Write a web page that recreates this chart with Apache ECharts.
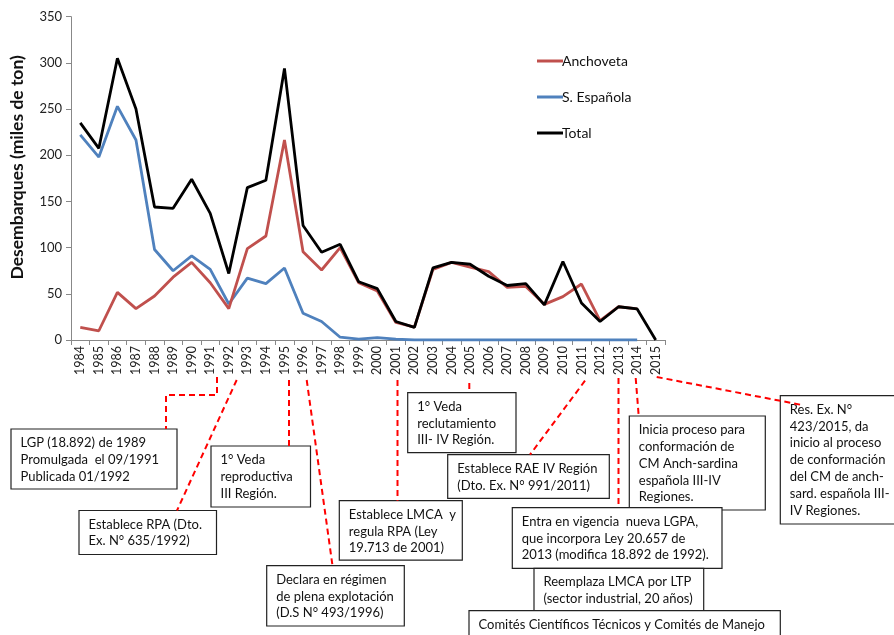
<!DOCTYPE html>
<html>
<head>
<meta charset="utf-8">
<script src="https://cdn.jsdelivr.net/npm/echarts@6/dist/echarts.min.js"></script>
<style>
  html, body { margin: 0; padding: 0; background: #fff; }
  #chart { width: 894px; height: 635px; }
</style>
</head>
<body>
<div id="chart"></div>
<script>
// datos (miles de ton)
var years = ['1984','1985','1986','1987','1988','1989','1990','1991','1992','1993','1994','1995','1996','1997','1998','1999',
             '2000','2001','2002','2003','2004','2005','2006','2007','2008','2009','2010','2011','2012','2013','2014','2015'];
var anchoveta = [13.7,10,51.6,34,47.6,68,84,62,34,99,112.6,216.5,95.6,75.8,100,62,
                 53,19,14,76.5,84,79,74,57,58,38.6,47,60.6,21,36,33.6,null];
var espanola = [222,198,253,216.5,98,75,91,76.5,39,67,61,78,29,20,3,1,
                2.5,1,0,0,0,0,0,0,0,0,0,0,0,0,0,null];
var total = [235,207.5,305,250,144,142.5,174,137,72,165,173,294,124,95,103.6,63,
             55.6,20,13.7,78,84,82,69,59,61,38,85,40,20,36,33.6,0];
var yTicks = [0,50,100,150,200,250,300,350];

// anotaciones: caja [x, y, ancho, alto] + líneas de texto
var notes = [
    { box: [11, 429, 166, 60], lines: ['LGP (18.892) de 1989', 'Promulgada  el 09/1991', 'Publicada 01/1992'] },
    { box: [79, 510.5, 137.5, 44], lines: ['Establece RPA (Dto.', 'Ex. N° 635/1992)'] },
    { box: [211, 446, 99.5, 61], lines: ['1° Veda', 'reproductiva', 'III Región.'] },
    { box: [266.7, 565.7, 137.6, 60.3], lines: ['Declara en régimen', 'de plena explotación', '(D.S N° 493/1996)'] },
    { box: [339.3, 500.7, 123, 59.5], lines: ['Establece LMCA  y', 'regula RPA (Ley', '19.713 de 2001)'] },
    { box: [407.7, 392.7, 108.3, 60], lines: ['1° Veda', 'reclutamiento', 'III- IV Región.'] },
    { box: [447.7, 454.7, 161.6, 43.6], lines: ['Establece RAE IV Región', '(Dto. Ex. N° 991/2011)'] },
    { box: [629.3, 416, 136, 94], lines: ['Inicia proceso para', 'conformación de', 'CM Anch-sardina', 'española III-IV', 'Regiones.'] },
    { box: [512.3, 507.7, 209.7, 60.6], lines: ['Entra en vigencia  nueva LGPA,', 'que incorpora Ley 20.657 de', '2013 (modifica 18.892 de 1992).'] },
    { box: [534, 568.3, 169.7, 42.4], lines: ['Reemplaza LMCA por LTP', '(sector industrial, 20 años)'] },
    { box: [469, 610.7, 311.3, 40], lines: ['Comités Científicos Técnicos y Comités de Manejo'] },
    { box: [780.3, 395.7, 120, 128.3], lines: ['Res. Ex. N°', '423/2015, da', 'inicio al proceso', 'de conformación', 'del CM de anch-', 'sard. española III-', 'IV Regiones.'] }
];

// líneas rojas punteadas desde los años
var links = [
    [[217, 377], [217, 395], [166, 395], [166, 429]],
    [[236.7, 380], [177, 510.5]],
    [[289, 380], [289, 446]],
    [[306.7, 380], [332.5, 565.7]],
    [[397.5, 380], [397.5, 500.7]],
    [[469.3, 383], [469.3, 392.7]],
    [[585, 380.7], [530, 454.7]],
    [[618.5, 378], [618.5, 507.7]],
    [[635.7, 378], [638.7, 416]],
    [[656.7, 377], [802, 405]]
];

var FONT = 'Lato, "Noto Sans", sans-serif';

function buildGraphic() {
    var els = [];
    notes.forEach(function(n) {
        els.push({
            type: 'rect',
            shape: { x: n.box[0], y: n.box[1], width: n.box[2], height: n.box[3] },
            style: { fill: '#fff', stroke: '#222', lineWidth: 1.2 },
            z: 10
        });
        els.push({
            type: 'text',
            x: n.box[0] + 9.5,
            y: n.box[1] + 5.6,
            style: {
                text: n.lines.join('\n'),
                font: '13px ' + FONT,
                lineHeight: 16.8,
                fill: '#111',
                verticalAlign: 'top',
                align: 'left'
            },
            z: 11
        });
    });
    links.forEach(function(pts) {
        els.push({
            type: 'polyline',
            shape: { points: pts },
            style: { stroke: '#ff0000', lineWidth: 2, lineDash: [6, 4], fill: null },
            z: 12
        });
    });
    return els;
}

var chart = echarts.init(document.getElementById('chart'), null, { renderer: 'canvas' });

var option = {
    animation: false,
    backgroundColor: '#fff',
    textStyle: { fontFamily: FONT },
    grid: { left: 70, right: 229, top: 16.7, bottom: 295, containLabel: false },
    legend: {
        orient: 'vertical',
        left: 532,
        top: 49,
        itemGap: 22,
        itemWidth: 26,
        itemHeight: 3,
        icon: 'rect',
        textStyle: { fontSize: 14, color: '#111', fontFamily: FONT, padding: [0, 0, 0, -6] },
        data: ['Anchoveta', 'S. Española', 'Total']
    },
    xAxis: {
        type: 'category',
        data: years,
        boundaryGap: true,
        axisLine: { lineStyle: { color: '#888', width: 1 } },
        axisTick: { show: true, alignWithLabel: false, length: 5, lineStyle: { color: '#888' } },
        axisLabel: { rotate: 90, fontSize: 12.5, color: '#222', margin: 6, interval: 0, fontFamily: FONT }
    },
    yAxis: {
        type: 'value',
        min: 0,
        max: 350,
        interval: 50,
        name: 'Desembarques (miles de ton)',
        nameLocation: 'middle',
        nameGap: 45,
        nameTextStyle: { fontSize: 17.5, fontWeight: 'bold', color: '#111', fontFamily: FONT, padding: [0, 0, 0, 22] },
        splitLine: { show: false },
        axisLine: { show: true, lineStyle: { color: '#888', width: 1 } },
        axisTick: { show: true, length: 5, lineStyle: { color: '#888' } },
        axisLabel: {
            fontSize: 13, color: '#222', margin: 9, fontFamily: FONT,
            formatter: function(v) { return yTicks.indexOf(v) >= 0 ? String(v) : ''; }
        }
    },
    series: [
        {
            name: 'Anchoveta', type: 'line', data: anchoveta, symbol: 'none',
            lineStyle: { color: '#C0504D', width: 2.8 }, itemStyle: { color: '#C0504D' }, z: 2
        },
        {
            name: 'S. Española', type: 'line', data: espanola, symbol: 'none',
            lineStyle: { color: '#4F81BD', width: 2.8 }, itemStyle: { color: '#4F81BD' }, z: 1
        },
        {
            name: 'Total', type: 'line', data: total, symbol: 'none',
            lineStyle: { color: '#000', width: 2.8 }, itemStyle: { color: '#000' }, z: 3
        }
    ],
    graphic: buildGraphic()
};

chart.setOption(option);
</script>
</body>
</html>
